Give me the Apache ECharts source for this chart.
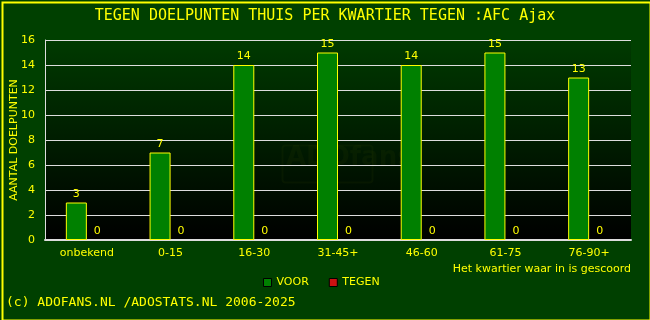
<!DOCTYPE html>
<html><head><meta charset="utf-8">
<script src="https://cdn.jsdelivr.net/npm/echarts@6/dist/echarts.min.js"></script>
<style>html,body{margin:0;padding:0;background:#004000}#c{width:650px;height:320px}</style>
</head><body><div id="c"></div>
<script>
var categories = ['onbekend','0-15','16-30','31-45+','46-60','61-75','76-90+'];
var voor = [3,7,14,15,14,15,13];
var tegen = [0,0,0,0,0,0,0];
var yTicks = [0,2,4,6,8,10,12,14,16];

var chart = echarts.init(document.getElementById('c'));
var yel = '#ffff00';
chart.setOption({
  backgroundColor: '#004000',
  animation: false,
  title: {
    text: 'TEGEN DOELPUNTEN THUIS PER KWARTIER TEGEN :AFC Ajax',
    left: 'center', top: 4,
    textStyle: {color: yel, fontFamily: 'DejaVu Sans Mono', fontSize: 15, fontWeight: 'normal'}
  },
  graphic: [
    {type:'rect', left:0, top:0, shape:{width:648, height:318}, style:{fill:'none', stroke: yel, lineWidth:2}, silent:true},
    {type:'text', left:6, top:296, style:{text:'(c) ADOFANS.NL /ADOSTATS.NL 2006-2025', fill: yel, font:'13px "DejaVu Sans Mono"'}},
    {type:'rect', left:280, top:143, shape:{width:90, height:37, r:3}, style:{fill:'none', stroke:'rgba(70,90,0,0.1)', lineWidth:2}, z:0},
    {type:'text', left:286, top:145, style:{text:'ADOfans', fill:'rgba(70,90,0,0.1)', font:'bold 26px "DejaVu Sans"'}, z:0}
  ],
  legend: {
    top: 272, left: 258,
    itemWidth: 8, itemHeight: 8, itemGap: 20,
    icon: 'rect',
    textStyle: {color: yel, fontFamily: 'DejaVu Sans', fontSize: 11},
    data: [
      {name:'VOOR', itemStyle:{color:'#008000', borderColor:'#000', borderWidth:1}},
      {name:'TEGEN', itemStyle:{color:'#cc1111', borderColor:'#000', borderWidth:1}}
    ]
  },
  grid: {
    left: 45, right: 19, top: 40, bottom: 80, show: true,
    outerBoundsMode: 'none', containLabel: false,
    borderWidth: 0,
    backgroundColor: new echarts.graphic.LinearGradient(0,0,0,1,[{offset:0,color:'#003a00'},{offset:1,color:'#000000'}])
  },
  xAxis: {
    type: 'category', data: categories,
    name: 'Het kwartier waar in is gescoord', nameLocation: 'end',
    nameGap: 0, nameMoveOverlap: false,
    nameTextStyle: {color: yel, fontFamily:'DejaVu Sans', fontSize: 11, align:'right', verticalAlign:'top', padding:[24,0,0,0]},
    axisLine: {lineStyle: {color: '#dddddd', width: 2}},
    axisTick: {show: false},
    axisLabel: {color: yel, fontFamily:'DejaVu Sans', fontSize: 11, margin: 8}
  },
  yAxis: {
    type: 'value', min: 0, max: 16, interval: 2,
    name: 'AANTAL DOELPUNTEN', nameLocation: 'middle', nameGap: 25, nameMoveOverlap: false,
    nameTextStyle: {color: yel, fontFamily:'DejaVu Sans', fontSize: 11},
    axisLine: {show: true, lineStyle: {color: '#dddddd', width: 1}},
    axisTick: {show: false},
    axisLabel: {color: yel, fontFamily:'DejaVu Sans', fontSize: 11, margin: 10},
    splitLine: {lineStyle: {color: '#dddddd', width: 1}}
  },
  series: [
    {name:'VOOR', type:'bar', data: voor, barWidth: 21, barGap: '0%',
     itemStyle:{color:'#008000', borderColor: yel, borderWidth: 1},
     label:{show:true, position:'top', color: yel, fontFamily:'DejaVu Sans', fontSize: 11, distance: 3}},
    {name:'TEGEN', type:'bar', data: tegen, barWidth: 21,
     itemStyle:{color:'#cc1111', borderColor: yel, borderWidth: 0},
     label:{show:true, position:'top', color: yel, fontFamily:'DejaVu Sans', fontSize: 11, distance: 3}}
  ]
});
</script></body></html>
